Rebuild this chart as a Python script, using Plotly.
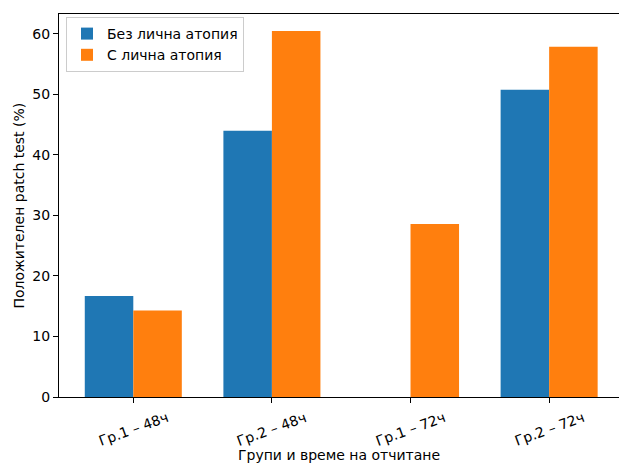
import plotly.graph_objects as go

categories = ["Гр.1 – 48ч", "Гр.2 – 48ч", "Гр.1 – 72ч", "Гр.2 – 72ч"]
without_atopy = [16.7, 44.0, 0.0, 50.8]
with_atopy = [14.3, 60.5, 28.6, 57.9]
series_names = ["Без лична атопия", "С лична атопия"]
y_ticks = [0, 10, 20, 30, 40, 50, 60]

x_pos = list(range(len(categories)))

fig = go.Figure()
fig.add_trace(go.Bar(x=x_pos, y=without_atopy, name=series_names[0],
                     marker=dict(color="#1f77b4", line=dict(width=0))))
fig.add_trace(go.Bar(x=x_pos, y=with_atopy, name=series_names[1],
                     marker=dict(color="#ff7f0e", line=dict(width=0))))

font = dict(family="DejaVu Sans", size=14, color="black")
W, H = 619, 465
L, R, T, B = 59, 0, 14, 68
pw, ph = W - L - R, H - T - B

annotations = []
for xi, lab in zip(x_pos, categories):
    annotations.append(dict(x=xi, y=0, xref="x", yref="paper", text=lab, showarrow=False,
                            textangle=-20, xanchor="center", yanchor="top", yshift=-9,
                            font=font))
annotations.append(dict(x=(339 - L) / pw, y=-(455 - (H - B)) / ph, xref="paper", yref="paper",
                        text="Групи и време на отчитане", showarrow=False,
                        xanchor="center", yanchor="middle", font=font))
annotations.append(dict(x=(18 - L) / pw, y=0.5, xref="paper", yref="paper",
                        text="Положителен patch test (%)", showarrow=False, textangle=-90,
                        xanchor="center", yanchor="middle", font=font))

fig.update_layout(
    width=W, height=H,
    margin=dict(l=L, r=R, t=T, b=B, autoexpand=False),
    paper_bgcolor="white", plot_bgcolor="white",
    barmode="group", bargap=0.3, bargroupgap=0,
    font=font,
    showlegend=True,
    legend=dict(x=(66 - L) / pw, y=1 - (17 - T) / ph, xanchor="left", yanchor="top",
                bgcolor="rgba(255,255,255,0.8)", bordercolor="#cccccc", borderwidth=1,
                font=font, tracegroupgap=2),
    annotations=annotations,
    xaxis=dict(range=[-0.536, 3.504], tickmode="array", tickvals=x_pos,
               showticklabels=False, automargin=False,
               showgrid=False, zeroline=False,
               showline=True, linecolor="black", linewidth=1, mirror=True,
               ticks="outside", ticklen=5, tickcolor="black"),
    yaxis=dict(range=[0, 63.3], tickmode="array", tickvals=y_ticks, automargin=False,
               showgrid=False, zeroline=False,
               showline=True, linecolor="black", linewidth=1,
               ticks="outside", ticklen=5, tickcolor="black", tickfont=font),
)

fig.write_html(
    "out.html",
    config={"displayModeBar": False},
    post_script="document.body.style.margin='0';document.body.style.padding='0';"
                "document.body.style.overflow='hidden';",
)
